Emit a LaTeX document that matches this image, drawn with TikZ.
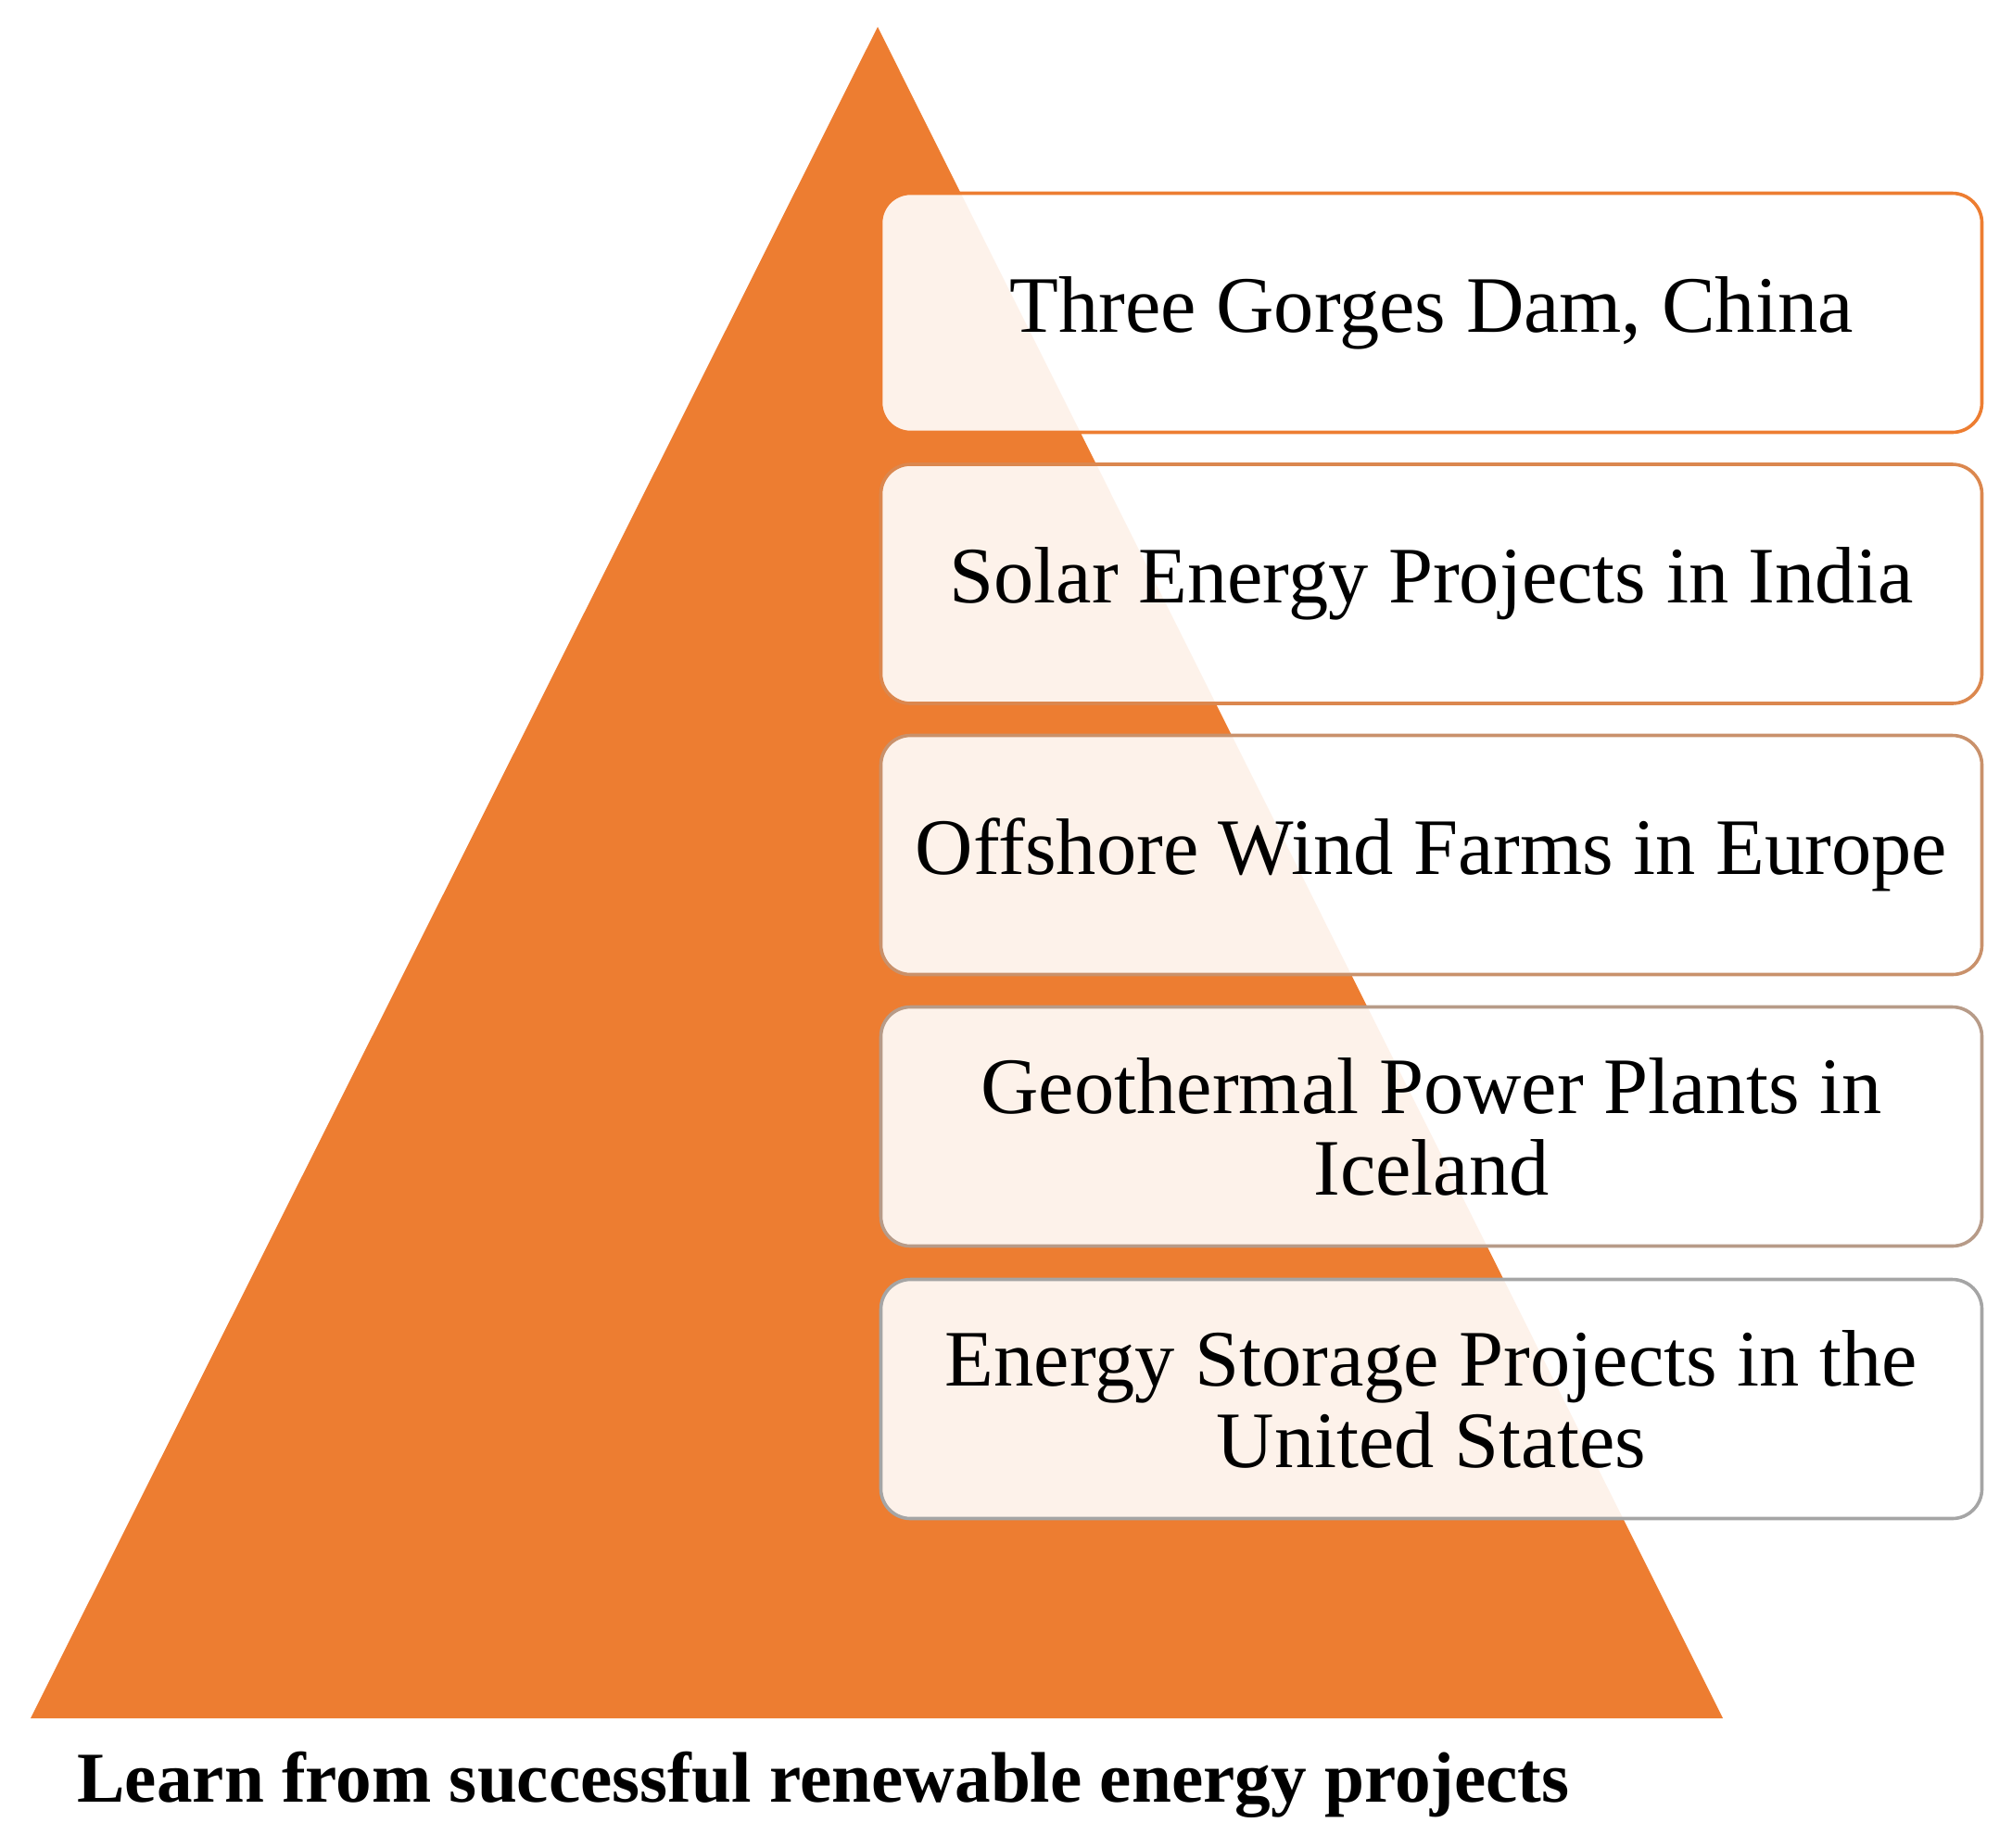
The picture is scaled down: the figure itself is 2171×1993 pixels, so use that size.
\documentclass[tikz,border=0pt]{standalone}
\usepackage{fontspec}
\setmainfont{Liberation Serif}
\definecolor{tri}{HTML}{ED7D31}
\definecolor{grayb}{HTML}{A5A5A5}
\colorlet{b1}{tri}
\colorlet{b2}{tri!75!grayb}
\colorlet{b3}{tri!50!grayb}
\colorlet{b4}{tri!25!grayb}
\colorlet{b5}{grayb}
\begin{document}
\begin{tikzpicture}[x=0.5pt,y=-0.5pt,
  itembox/.style={draw=#1, line width=1.8pt, rounded corners=16pt, fill=white, fill opacity=0.9, text opacity=1,
    minimum width=594pt, minimum height=129pt, align=center, inner sep=0pt,
    font=\fontsize{43.2}{44}\selectfont},
  title/.style={font=\bfseries\fontsize{38.6}{42}\selectfont, anchor=base west, inner sep=0pt}]
\useasboundingbox (0,0) rectangle (2171,1993);
\coordinate (apex) at (947,29);
\coordinate (bl) at (33,1854);
\coordinate (br) at (1859,1854);
\fill[tri] (apex) -- (bl) -- (br) -- cycle;
\node[itembox=b1] (n1) at (1544.5,337.5) {Three Gorges Dam, China};
\node[itembox=b2] (n2) at (1544.5,630) {Solar Energy Projects in India};
\node[itembox=b3] (n3) at (1544.5,922.5) {Offshore Wind Farms in Europe};
\node[itembox=b4] (n4) at (1544.5,1215.5) {Geothermal Power Plants in\\Iceland};
\node[itembox=b5] (n5) at (1544.5,1509.5) {Energy Storage Projects in the\\United States};
\node[title] (t) at (83,1944) {Learn from successful renewable energy projects};
\end{tikzpicture}
\end{document}
